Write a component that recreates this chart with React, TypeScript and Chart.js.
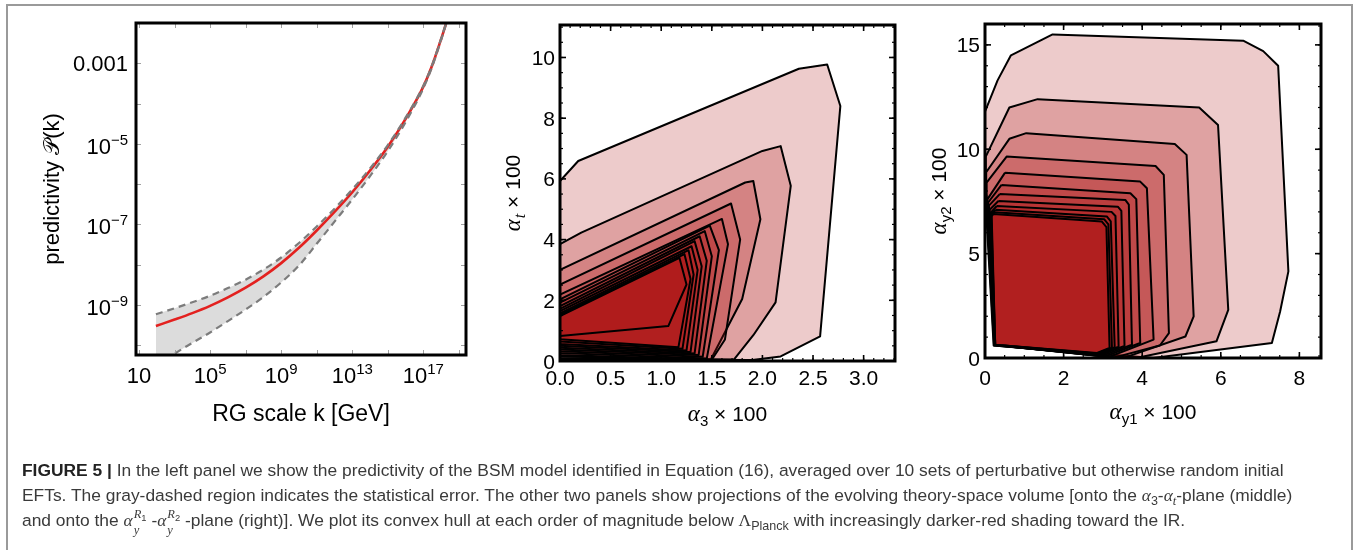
import React, { useEffect, useRef } from "react";
import { Chart, registerables } from "chart.js";

Chart.register(...registerables);

const SANS = '"Liberation Sans", Arial, Helvetica, sans-serif';
const SERIF = '"Liberation Serif", "DejaVu Serif", "Times New Roman", serif';

// ---------------- Left panel: predictivity (log10 values) ----------------
const logK = [1.95, 3, 4, 5, 6, 7, 8, 9, 10, 11, 12, 13, 14, 15, 16, 17, 17.5, 18, 18.3, 18.6];
const redLogP = [-9.52, -9.36, -9.2, -9.02, -8.81, -8.57, -8.29, -7.96, -7.58, -7.15, -6.69, -6.2, -5.66, -5.07, -4.38, -3.58, -3.05, -2.4, -1.98, -1.5];
const upperLogP = [-9.23, -9.08, -8.93, -8.77, -8.58, -8.37, -8.12, -7.82, -7.46, -7.05, -6.61, -6.13, -5.61, -5.03, -4.35, -3.56, -3.035, -2.39, -1.97, -1.49];
const lowerLogP = [-10.56, -10.21, -9.94, -9.68, -9.4, -9.11, -8.8, -8.44, -8.02, -7.48, -6.93, -6.38, -5.8, -5.18, -4.46, -3.62, -3.08, -2.42, -1.99, -1.51];

const leftXLabelExp = [1, 5, 9, 13, 17];
const leftYLabelExp = [-3, -5, -7, -9];
const leftXTickExp = [1, 3, 5, 7, 9, 11, 13, 15, 17, 19];
const leftYTickExp = [-10, -9, -8, -7, -6, -5, -4, -3];

// ---------------- Middle panel: alpha_3 - alpha_t hulls ----------------
const midHulls: number[][][] = [
  [[0, 0.06], [0, 5.93], [0.18, 6.59], [2.36, 9.63], [2.64, 9.77], [2.77, 8.4], [2.57, 0.81], [2.18, 0.15], [1.9, 0.03]],
  [[0, 0.1], [0, 3.85], [0.21, 4.23], [2.0, 6.92], [2.18, 7.08], [2.28, 5.77], [2.13, 1.93], [1.91, 0.85], [1.72, 0.05]],
  [[0, 0.15], [0, 3.0], [1.83, 5.88], [1.91, 5.93], [1.98, 4.67], [1.8, 2.04], [1.49, 0.05]],
  [[0, 0.2], [0, 2.52], [1.69, 5.19], [1.78, 4.0], [1.63, 0.71], [1.5, 0.04]],
  [[0, 0.26], [0, 2.19], [1.6, 4.68], [1.66, 3.85], [1.45, 0.08]],
  [[0, 0.32], [0, 2.03], [1.48, 4.46], [1.57, 3.65], [1.41, 0.14]],
  [[0, 0.38], [0, 1.92], [1.43, 4.28], [1.5, 3.45], [1.37, 0.2]],
  [[0, 0.44], [0, 1.81], [1.38, 4.11], [1.45, 3.3], [1.33, 0.25]],
  [[0, 0.5], [0, 1.72], [1.33, 3.95], [1.4, 3.12], [1.29, 0.3]],
  [[0, 0.56], [0, 1.64], [1.3, 3.78], [1.36, 3.0], [1.25, 0.35]],
  [[0, 0.64], [0, 1.57], [1.27, 3.65], [1.32, 2.85], [1.21, 0.4]],
  [[0, 0.72], [0, 1.52], [1.23, 3.52], [1.29, 2.7], [1.17, 0.45]],
  [[0, 0.82], [0, 1.48], [1.18, 3.4], [1.25, 2.52], [1.07, 1.15]],
];
const midXLabels = [0, 0.5, 1.0, 1.5, 2.0, 2.5, 3.0];
const midYLabels = [0, 2, 4, 6, 8, 10];

// ---------------- Right panel: alpha_y1 - alpha_y2 hulls ----------------
const rightHulls: number[][][] = [
  [[0, 11.8], [0.32, 13.3], [0.66, 14.5], [1.72, 15.5], [6.57, 15.2], [7.08, 14.7], [7.46, 14.0], [7.72, 4.15], [7.51, 2.23], [7.3, 0.72], [4.28, 0.0], [0.22, 0.6], [0, 8.0]],
  [[0.02, 9.65], [0.62, 12.0], [1.34, 12.4], [5.45, 12.0], [5.93, 11.16], [6.19, 2.31], [5.89, 0.8], [3.85, 0.0], [0.23, 0.6], [0.02, 7.9]],
  [[0.03, 8.9], [0.62, 10.5], [1.05, 10.77], [4.83, 10.25], [5.13, 9.73], [5.31, 1.99], [5.1, 1.03], [3.55, 0.02], [0.24, 0.61], [0.04, 7.8]],
  [[0.04, 8.4], [0.55, 9.65], [4.34, 9.2], [4.55, 8.77], [4.68, 1.19], [4.45, 0.6], [3.3, 0.03], [0.25, 0.62], [0.05, 7.7]],
  [[0.51, 8.88], [3.95, 8.45], [4.12, 8.13], [4.29, 0.88], [3.15, 0.05], [0.25, 0.62], [0.06, 7.6]],
  [[0.42, 8.29], [3.7, 7.89], [3.85, 7.61], [3.95, 0.72], [3.05, 0.07], [0.25, 0.63], [0.08, 7.45]],
  [[0.38, 7.86], [3.57, 7.57], [3.66, 7.35], [3.74, 0.64], [2.98, 0.1], [0.25, 0.63], [0.1, 7.3]],
  [[0.34, 7.52], [3.38, 7.25], [3.47, 7.05], [3.55, 0.58], [2.93, 0.13], [0.26, 0.64], [0.12, 7.1]],
  [[0.3, 7.28], [3.22, 7.0], [3.32, 6.8], [3.4, 0.54], [2.9, 0.17], [0.26, 0.64], [0.14, 6.95]],
  [[0.27, 7.1], [3.1, 6.78], [3.2, 6.55], [3.3, 0.52], [2.88, 0.2], [0.26, 0.64], [0.15, 6.88]],
  [[0.24, 6.98], [3.03, 6.65], [3.14, 6.4], [3.23, 0.5], [2.86, 0.22], [0.26, 0.64], [0.16, 6.82]],
  [[0.21, 6.9], [2.97, 6.54], [3.09, 6.27], [3.17, 0.48], [2.85, 0.24], [0.26, 0.64], [0.17, 6.78]],
];
const rightXLabels = [0, 2, 4, 6, 8];
const rightYLabels = [0, 5, 10, 15];

// each hull is a translucent dark-red layer; overlaps darken toward the IR
const HULL_FILL = "rgba(176, 22, 24, 0.225)";

type Part = { t: string; font: string; dy?: number; dx?: number };

function drawRich(ctx: CanvasRenderingContext2D, parts: Part[], x: number, y: number, align: "left" | "center" | "right") {
  ctx.textAlign = "left";
  ctx.textBaseline = "alphabetic";
  let w = 0;
  for (const p of parts) {
    ctx.font = p.font;
    w += ctx.measureText(p.t).width + (p.dx || 0);
  }
  let cx = align === "left" ? x : align === "center" ? x - w / 2 : x - w;
  for (const p of parts) {
    ctx.font = p.font;
    cx += p.dx || 0;
    ctx.fillText(p.t, cx, y + (p.dy || 0));
    cx += ctx.measureText(p.t).width;
  }
}

function seg(ctx: CanvasRenderingContext2D, x1: number, y1: number, x2: number, y2: number) {
  ctx.beginPath();
  ctx.moveTo(x1, y1);
  ctx.lineTo(x2, y2);
  ctx.stroke();
}

function steps(max: number, step: number) {
  const out: number[] = [];
  for (let i = 0; i * step <= max + 1e-9; i++) out.push(+(i * step).toFixed(6));
  return out;
}

function frameTicks(chart: any, xMajor: number[], xMinor: number[], yMajor: number[], yMinor: number[]) {
  const { ctx, chartArea: a, scales } = chart;
  const xs = scales.x, ys = scales.y;
  ctx.save();
  ctx.strokeStyle = "#000";
  const drawSet = (vals: number[], len: number, lw: number) => {
    ctx.lineWidth = lw;
    for (const v of vals) {
      const px = xs.getPixelForValue(v);
      if (px < a.left + 1 || px > a.right - 1) continue;
      seg(ctx, px, a.bottom, px, a.bottom - len);
      seg(ctx, px, a.top, px, a.top + len);
    }
  };
  const drawSetY = (vals: number[], len: number, lw: number) => {
    ctx.lineWidth = lw;
    for (const v of vals) {
      const py = ys.getPixelForValue(v);
      if (py < a.top + 1 || py > a.bottom - 1) continue;
      seg(ctx, a.left, py, a.left + len, py);
      seg(ctx, a.right, py, a.right - len, py);
    }
  };
  drawSet(xMinor, 3, 1.2);
  drawSet(xMajor, 6, 1.6);
  drawSetY(yMinor, 3, 1.2);
  drawSetY(yMajor, 6, 1.6);
  ctx.lineWidth = 3;
  ctx.strokeRect(a.left, a.top, a.right - a.left, a.bottom - a.top);
  ctx.restore();
}

function polyDatasets(hulls: number[][][]) {
  return hulls.map((h, i) => ({
    data: [...h, h[0]].map(([x, y]) => ({ x, y })),
    showLine: true,
    fill: "shape",
    backgroundColor: HULL_FILL,
    borderColor: "#000",
    borderWidth: 2,
    borderJoinStyle: "round",
    pointRadius: 0,
    tension: 0,
    order: hulls.length - i,
  }));
}

const baseOptions = (padding: any, scales: any, filler: any = {}) => ({
  animation: false,
  responsive: false,
  devicePixelRatio: 1,
  events: [],
  layout: { padding },
  scales,
  plugins: { legend: { display: false }, tooltip: { enabled: false }, filler },
});

const toPts = (lk: number[], lp: number[]) => lk.map((k, i) => ({ x: Math.pow(10, k), y: Math.pow(10, lp[i]) }));

function leftConfig(): any {
  const deco = {
    id: "leftDeco",
    afterDraw(chart: any) {
      const { ctx, chartArea: a, scales } = chart;
      const xs = scales.x, ys = scales.y;
      ctx.save();
      ctx.strokeStyle = "#a0a0a0";
      ctx.lineWidth = 1;
      for (const e of leftYTickExp) {
        const py = Math.round(ys.getPixelForValue(Math.pow(10, e))) + 0.5;
        seg(ctx, a.left, py, a.left + 5, py);
        seg(ctx, a.right - 5, py, a.right, py);
      }
      for (const e of leftXTickExp) {
        const px = Math.round(xs.getPixelForValue(Math.pow(10, e))) + 0.5;
        if (px > a.right - 2) continue;
        seg(ctx, px, a.bottom, px, a.bottom - 5);
        seg(ctx, px, a.top, px, a.top + 5);
      }
      ctx.strokeStyle = "#000";
      ctx.lineWidth = 3;
      ctx.strokeRect(a.left, a.top, a.right - a.left, a.bottom - a.top);
      ctx.fillStyle = "#000";
      const big = `22px ${SANS}`, sup = `15px ${SANS}`;
      for (const e of leftYLabelExp) {
        const py = ys.getPixelForValue(Math.pow(10, e));
        if (e === -3) drawRich(ctx, [{ t: "0.001", font: big }], a.left - 8, py + 8, "right");
        else drawRich(ctx, [{ t: "10", font: big }, { t: "\u2212" + Math.abs(e), font: sup, dy: -9 }], a.left - 8, py + 10, "right");
      }
      for (const e of leftXLabelExp) {
        const px = xs.getPixelForValue(Math.pow(10, e));
        if (e === 1) drawRich(ctx, [{ t: "10", font: big }], px, 383, "center");
        else drawRich(ctx, [{ t: "10", font: big }, { t: String(e), font: sup, dy: -9.5 }], px, 383, "center");
      }
      drawRich(ctx, [{ t: "RG scale k [GeV]", font: `23px ${SANS}` }], (a.left + a.right) / 2, 421, "center");
      ctx.translate(59, (a.top + a.bottom) / 2);
      ctx.rotate(-Math.PI / 2);
      drawRich(ctx, [{ t: "predictivity ", font: `22px ${SANS}` }, { t: "\uD835\uDCAB", font: `22px ${SERIF}` }, { t: "(k)", font: `22px ${SANS}` }], 0, 0, "center");
      ctx.restore();
    },
  };
  return {
    type: "scatter",
    data: {
      datasets: [
        { data: toPts(logK, upperLogP), showLine: true, borderColor: "#7c7c7c", borderDash: [7, 5], borderWidth: 2.2, pointRadius: 0, cubicInterpolationMode: "monotone", fill: 1, backgroundColor: "#dcdcdc" },
        { data: toPts(logK, lowerLogP), showLine: true, borderColor: "#7c7c7c", borderDash: [7, 5], borderWidth: 2.2, pointRadius: 0, cubicInterpolationMode: "monotone", fill: false },
        { data: toPts(logK, redLogP), showLine: true, borderColor: "#e3211f", borderWidth: 2.6, pointRadius: 0, cubicInterpolationMode: "monotone", fill: false },
      ],
    },
    options: baseOptions(
      { left: 136, top: 23, right: 4, bottom: 85 },
      {
        x: { type: "logarithmic", min: Math.pow(10, 0.83), max: Math.pow(10, 19.4), display: false },
        y: { type: "logarithmic", min: Math.pow(10, -10.24), max: 1e-2, display: false },
      },
      { drawTime: "beforeDatasetsDraw" }
    ),
    plugins: [deco],
  };
}

function midConfig(): any {
  const deco = {
    id: "midDeco",
    afterDraw(chart: any) {
      const { ctx, chartArea: a, scales } = chart;
      frameTicks(chart, steps(3.3, 0.5), steps(3.3, 0.1), steps(11, 2), steps(11, 0.5));
      ctx.save();
      ctx.fillStyle = "#000";
      const f = `21px ${SANS}`;
      for (const v of midYLabels) drawRich(ctx, [{ t: String(v), font: f }], a.left - 5, scales.y.getPixelForValue(v) + 7.5, "right");
      for (const v of midXLabels) drawRich(ctx, [{ t: v.toFixed(1), font: f }], scales.x.getPixelForValue(v), 385, "center");
      const title = (sub: Part): Part[] => [{ t: "\u03B1", font: `italic 23px ${SERIF}` }, sub, { t: " \u00D7 100", font: `21px ${SANS}` }];
      drawRich(ctx, title({ t: "3", font: `15px ${SANS}`, dy: 5 }), (a.left + a.right) / 2, 421, "center");
      ctx.translate(50, (a.top + a.bottom) / 2);
      ctx.rotate(-Math.PI / 2);
      drawRich(ctx, title({ t: "t", font: `italic 16px ${SERIF}`, dy: 5, dx: 1 }), 0, 0, "center");
      ctx.restore();
    },
  };
  return {
    type: "scatter",
    data: { datasets: polyDatasets(midHulls) },
    options: baseOptions(
      { left: 90, top: 25, right: 15, bottom: 79 },
      { x: { type: "linear", min: 0, max: 3.31, display: false }, y: { type: "linear", min: 0, max: 11.07, display: false } }
    ),
    plugins: [deco],
  };
}

function rightConfig(): any {
  const deco = {
    id: "rightDeco",
    afterDraw(chart: any) {
      const { ctx, chartArea: a, scales } = chart;
      frameTicks(chart, steps(8.5, 2), steps(8.5, 0.5), steps(16, 5), steps(16, 1));
      ctx.save();
      ctx.fillStyle = "#000";
      const f = `21px ${SANS}`;
      for (const v of rightYLabels) drawRich(ctx, [{ t: String(v), font: f }], a.left - 5, scales.y.getPixelForValue(v) + 7.5, "right");
      for (const v of rightXLabels) drawRich(ctx, [{ t: String(v), font: f }], scales.x.getPixelForValue(v), 385, "center");
      const title = (sub: string): Part[] => [{ t: "\u03B1", font: `italic 23px ${SERIF}` }, { t: sub, font: `15px ${SANS}`, dy: 5 }, { t: " \u00D7 100", font: `21px ${SANS}` }];
      drawRich(ctx, title("y1"), (a.left + a.right) / 2, 419, "center");
      ctx.translate(36, (a.top + a.bottom) / 2);
      ctx.rotate(-Math.PI / 2);
      drawRich(ctx, title("y2"), 0, 0, "center");
      ctx.restore();
    },
  };
  return {
    type: "scatter",
    data: { datasets: polyDatasets(rightHulls) },
    options: baseOptions(
      { left: 75, top: 24, right: 38, bottom: 82 },
      { x: { type: "linear", min: 0, max: 8.55, display: false }, y: { type: "linear", min: 0, max: 16.0, display: false } }
    ),
    plugins: [deco],
  };
}

function ChartCanvas({ left, width, height, build }: { left: number; width: number; height: number; build: () => any }) {
  const ref = useRef<HTMLCanvasElement | null>(null);
  useEffect(() => {
    const chart = new Chart(ref.current as HTMLCanvasElement, build());
    return () => chart.destroy();
  }, []);
  return <canvas ref={ref} width={width} height={height} style={{ position: "absolute", left, top: 0, width, height }} />;
}

const A = ({ children }: { children?: any }) => <i style={{ fontFamily: SERIF }}>{children}</i>;

function YSubSup({ sup }: { sup: string }) {
  return (
    <span style={{ display: "inline-flex", flexDirection: "column", verticalAlign: "0.6em", fontSize: "0.72em", lineHeight: "1.05em", marginLeft: "1px" }}>
      <span>
        <A>R</A>
        <span style={{ fontSize: "0.75em", verticalAlign: "-0.3em" }}>{sup}</span>
      </span>
      <span>
        <A>y</A>
      </span>
    </span>
  );
}

export default function App() {
  const lineStyle: React.CSSProperties = { position: "absolute", left: 22, whiteSpace: "nowrap", height: 22, lineHeight: "22px" };
  return (
    <div style={{ position: "fixed", left: 0, top: 0, width: 1359, height: 550, background: "#fff", overflow: "hidden" }}>
      <ChartCanvas left={0} width={470} height={440} build={leftConfig} />
      <ChartCanvas left={470} width={440} height={440} build={midConfig} />
      <ChartCanvas left={910} width={449} height={440} build={rightConfig} />
      <div style={{ position: "absolute", left: 6, top: 4, width: 1347, height: 600, border: "2px solid #9a9a9a", boxSizing: "border-box", pointerEvents: "none" }} />
      <div style={{ position: "absolute", left: 0, top: 0, width: 1359, fontFamily: SANS, fontSize: 17.4, color: "#3a3a3a" }}>
        <div style={{ ...lineStyle, top: 459 }}>
          <b style={{ color: "#222" }}>FIGURE 5 |</b> In the left panel we show the predictivity of the BSM model identified in Equation (16), averaged over 10 sets of perturbative but otherwise random initial
        </div>
        <div style={{ ...lineStyle, top: 484 }}>
          EFTs. The gray-dashed region indicates the statistical error. The other two panels show projections of the evolving theory-space volume [onto the <A>α</A>
          <sub style={{ fontSize: "0.72em" }}>3</sub>-<A>α</A>
          <sub style={{ fontSize: "0.72em" }}>
            <A>t</A>
          </sub>
          -plane (middle)
        </div>
        <div style={{ ...lineStyle, top: 508 }}>
          and onto the <A>α</A>
          <YSubSup sup="1" /> -<A>α</A>
          <YSubSup sup="2" /> -plane (right)]. We plot its convex hull at each order of magnitude below <span style={{ fontFamily: SERIF }}>Λ</span>
          <sub style={{ fontSize: "0.72em" }}>Planck</sub> with increasingly darker-red shading toward the IR.
        </div>
      </div>
    </div>
  );
}
